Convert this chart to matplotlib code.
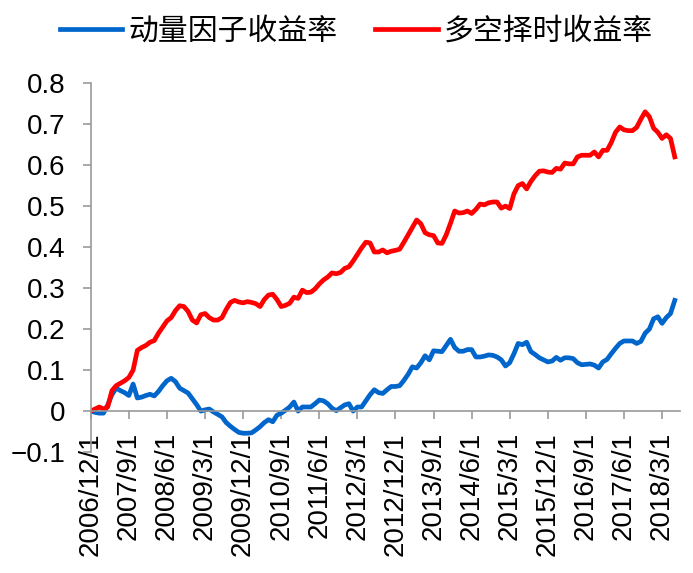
import matplotlib
matplotlib.use("Agg")
import matplotlib.pyplot as plt
from matplotlib.ticker import MultipleLocator

plt.rcParams['font.family'] = ['Noto Sans CJK SC', 'DejaVu Sans']
plt.rcParams['axes.unicode_minus'] = True

# monthly, 2006/12 .. 2018/6
momentum = [
    0.0, -0.003, -0.005, -0.005, 0.015, 0.04, 0.056, 0.05, 0.045, 0.038,
    0.066, 0.032, 0.034, 0.038, 0.041, 0.037, 0.048, 0.062, 0.074, 0.08,
    0.072, 0.056, 0.05, 0.044, 0.03, 0.016, 0.0, 0.003, 0.005, -0.002,
    -0.008, -0.014, -0.028, -0.037, -0.045, -0.052, -0.054, -0.054, -0.053, -0.046,
    -0.038, -0.028, -0.021, -0.026, -0.01, -0.005, 0.002, 0.01, 0.022, 0.0,
    0.01, 0.01, 0.01, 0.018, 0.027, 0.025, 0.018, 0.007, 0.001, 0.008,
    0.015, 0.018, 0.0, 0.01, 0.01, 0.025, 0.04, 0.052, 0.045, 0.043,
    0.052, 0.06, 0.06, 0.062, 0.075, 0.09, 0.108, 0.105, 0.118, 0.135,
    0.125, 0.147, 0.146, 0.145, 0.16, 0.175, 0.155, 0.146, 0.146, 0.15,
    0.15, 0.132, 0.132, 0.134, 0.137, 0.136, 0.132, 0.125, 0.11, 0.118,
    0.14, 0.165, 0.162, 0.168, 0.145, 0.138, 0.13, 0.125, 0.12, 0.122,
    0.131, 0.124, 0.13, 0.13, 0.128, 0.118, 0.113, 0.114, 0.115, 0.112,
    0.105, 0.12, 0.126, 0.14, 0.153, 0.165, 0.171, 0.171, 0.171, 0.165,
    0.17, 0.19, 0.2, 0.225, 0.23, 0.214, 0.228, 0.238, 0.27,
]

timing = [
    0.0, 0.005, 0.01, 0.005, 0.01, 0.05, 0.062, 0.068, 0.074, 0.082,
    0.1, 0.148, 0.155, 0.16, 0.168, 0.172, 0.19, 0.205, 0.22, 0.228,
    0.245, 0.257, 0.255, 0.243, 0.222, 0.215, 0.235, 0.238, 0.228, 0.222,
    0.222, 0.228, 0.248, 0.265, 0.27, 0.266, 0.264, 0.267, 0.265, 0.262,
    0.255, 0.272, 0.283, 0.285, 0.272, 0.255, 0.258, 0.263, 0.278, 0.275,
    0.295, 0.289, 0.29, 0.298, 0.31, 0.32, 0.327, 0.337, 0.335, 0.338,
    0.348, 0.352, 0.366, 0.382, 0.398, 0.412, 0.41, 0.388, 0.388, 0.393,
    0.386, 0.39, 0.392, 0.395, 0.412, 0.43, 0.448, 0.466, 0.457, 0.435,
    0.43, 0.428, 0.41, 0.409, 0.43, 0.458, 0.488, 0.483, 0.484, 0.488,
    0.482, 0.492, 0.505, 0.503, 0.508, 0.51, 0.51, 0.495, 0.5, 0.494,
    0.53, 0.55, 0.555, 0.542, 0.56, 0.574, 0.585, 0.586, 0.583, 0.582,
    0.592, 0.59, 0.605, 0.603, 0.603, 0.62, 0.624, 0.624, 0.624, 0.632,
    0.62, 0.636, 0.636, 0.655, 0.68, 0.693, 0.686, 0.684, 0.684, 0.692,
    0.712, 0.73, 0.718, 0.69, 0.68, 0.665, 0.674, 0.665, 0.62,
]

tick_labels = [
    '2006/12/1', '2007/9/1', '2008/6/1', '2009/3/1', '2009/12/1', '2010/9/1',
    '2011/6/1', '2012/3/1', '2012/12/1', '2013/9/1', '2014/6/1', '2015/3/1',
    '2015/12/1', '2016/9/1', '2017/6/1', '2018/3/1',
]

x = list(range(len(momentum)))

fig = plt.figure(figsize=(6.93, 5.73), dpi=100)
ax = fig.add_axes([0.131, 0.211, 0.85, 0.644])

ax.plot(x, momentum, color='#0066CC', lw=3.4, label='动量因子收益率', solid_joinstyle='round')
ax.plot(x, timing, color='#FF0000', lw=3.4, label='多空择时收益率', solid_joinstyle='round')

ax.set_xlim(0, 139.2)
ax.set_ylim(-0.1, 0.8)
ax.yaxis.set_major_locator(MultipleLocator(0.1))
ax.yaxis.set_major_formatter(plt.FuncFormatter(lambda v, p: '0' if abs(v) < 1e-9 else f'{v:.1f}'.replace('-', '\u2212')))

ax.set_xticks(range(0, 9 * len(tick_labels), 9))
ax.set_xticklabels(tick_labels)

for s in ['top', 'right']:
    ax.spines[s].set_visible(False)
ax.spines['bottom'].set_position(('data', 0))
ax.spines['left'].set_color('#999999')
ax.spines['bottom'].set_color('#999999')
ax.spines['left'].set_linewidth(1.2)
ax.spines['bottom'].set_linewidth(1.2)

ax.tick_params(axis='y', direction='out', length=6, width=1.2, color='#999999',
               labelsize=20, pad=12)
ax.tick_params(axis='x', direction='out', length=6, width=1.2, color='#999999',
               labelsize=20, pad=9, labelrotation=90)
for t in ax.get_xticklabels() + ax.get_yticklabels():
    t.set_family(['Liberation Sans', 'DejaVu Sans'])
for t in ax.get_xticklabels():
    t.set_va('top')
    t.set_ha('center')

leg = fig.legend(loc='upper center', bbox_to_anchor=(0.514, 1.02), ncol=2, frameon=False,
                 fontsize=21.5, handlelength=2.1, handletextpad=0.2, columnspacing=1.25)

fig.savefig('out.png', dpi=100)
